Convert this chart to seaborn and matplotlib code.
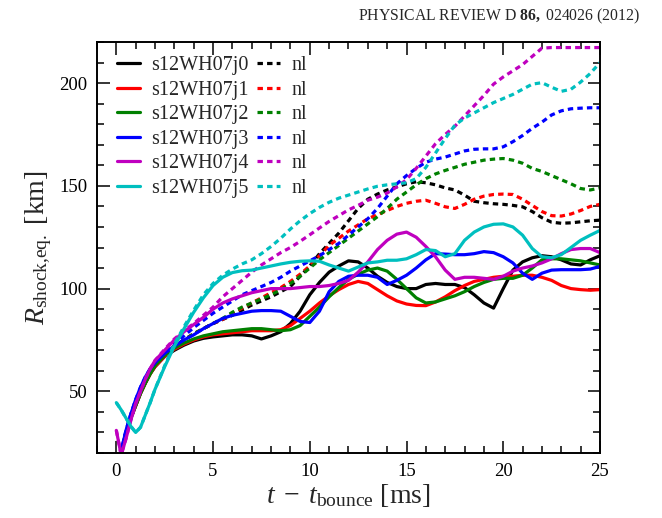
import matplotlib
matplotlib.use("Agg")
import matplotlib.pyplot as plt
from matplotlib.lines import Line2D
from matplotlib.ticker import MultipleLocator
import pandas as pd
import seaborn as sns

# ---------------------------------------------------------------- data
# time after bounce [ms]
t_ms = [0.0, 0.25, 0.5, 0.75, 1.0, 1.25, 1.5, 1.75, 2.0,
        2.5, 3.0, 3.5, 4.0, 4.5, 5.0, 5.5, 6.0, 6.5, 7.0,
        7.5, 8.0, 8.5, 9.0, 9.5, 10.0, 10.5, 11.0, 11.5, 12.0,
        12.5, 13.0, 13.5, 14.0, 14.5, 15.0, 15.5, 16.0, 16.5, 17.0,
        17.5, 18.0, 18.5, 19.0, 19.5, 20.0, 20.5, 21.0, 21.5, 22.0,
        22.5, 23.0, 23.5, 24.0, 24.5, 25.0]

models = ["s12WH07j0", "s12WH07j1", "s12WH07j2",
          "s12WH07j3", "s12WH07j4", "s12WH07j5"]
colors = ["#000000", "#ff0000", "#008000", "#0000ff", "#bf00bf", "#00bfbf"]

# equatorial shock radius [km], full (solid) runs
r_j0 = [8, 20, 30, 37, 43, 49, 54, 58.5, 62,
        67, 70, 72.5, 74.5, 75.8, 76.5, 77, 77.5, 77.5, 77,
        75.5, 77, 79, 83, 89, 97, 103, 108, 111, 113.5,
        113, 110, 106, 103, 101, 100, 100, 102, 102.5, 102,
        102, 100.5, 97, 93, 90.5, 100, 109, 113, 115, 116,
        115.5, 114, 112, 111.5, 114, 116]
r_j1 = [8, 20, 30, 37, 43, 49, 54, 58.5, 62,
        67, 70.5, 73, 75, 76.5, 77.5, 78, 78.5, 79, 79.5,
        79.5, 79.5, 80, 82, 85.5, 89, 93, 96.5, 99.5, 102,
        103.5, 102.5, 99.5, 96.5, 94, 92.5, 91.8, 91.7, 93.5, 96,
        99, 101.5, 103.5, 104.5, 105.5, 106, 106, 106.5, 106.5, 105.5,
        104, 101.5, 100, 99.5, 99.2, 99.5]
r_j2 = [8, 20, 30, 37, 43, 49, 54, 58.5, 62.5,
        67.5, 71, 73.5, 75.5, 77, 78, 79, 79.5, 80, 80.5,
        80.5, 80, 79.5, 80, 82, 86.5, 91, 96, 100.5, 104.5,
        107, 109, 110, 108.5, 104.5, 100, 95.5, 93, 93.5, 95,
        96.5, 98.5, 101, 103, 104.5, 105, 105, 106.5, 110, 114,
        114.5, 114.5, 114, 113.5, 112.5, 111.5]
r_j3 = [10, 21, 31, 39, 46, 52, 57, 61, 64,
        68.5, 72, 75, 77.5, 80.5, 83, 85.5, 87, 88, 89,
        89.3, 89.3, 89, 86.5, 84, 83.5, 89, 98.5, 103.5, 106,
        106.5, 106.5, 105.5, 102, 104, 106.5, 110, 114, 117, 116.8,
        116.5, 116.5, 117, 118, 117.5, 115.5, 112.5, 107.5, 104.5, 107.5,
        109, 109.2, 109.2, 109.2, 109.5, 110.8]
r_j4 = [31, 19, 27, 36, 44, 50, 56, 61, 65,
        70, 75, 79, 82.5, 86, 90, 93, 95, 96.5, 98,
        99, 100, 100, 100, 100.5, 101, 101, 101.5, 102.5, 104,
        108, 113, 119, 123.5, 126.5, 127.5, 125, 120.5, 115.5, 109,
        104.5, 105.5, 105.5, 105, 104.5, 106, 108.5, 110, 111, 112.5,
        114.5, 117, 119, 119.5, 119.5, 117.5]
r_j5 = [44.5, 41, 37, 33, 30, 32.5, 38.5, 44.5, 51,
        62, 72, 80.5, 88.5, 95.5, 101.5, 105.5, 107.8, 108.7, 109,
        110, 111, 112, 112.8, 113.3, 113.5, 113.3, 111.5, 110, 108.5,
        110.5, 112.5, 113, 113.8, 113.8, 114.5, 116.5, 119, 118.5, 115.5,
        117, 123.5, 127.5, 130, 131.3, 131.5, 130, 126, 119.5, 115.5,
        115, 116.5, 120, 123.5, 126, 128.3]

# same models without the extra physics ("nl", dashed)
nl_j0 = [8, 20, 30, 37, 44, 50, 55, 59.5, 63,
         68, 72, 75, 78, 80.5, 83, 85, 87, 89.5, 92,
         94, 96, 98.5, 101, 106, 111, 117, 122, 127, 133,
         139, 143.5, 146, 148, 149.5, 151, 152, 151.5, 150.5, 149,
         148, 145.5, 142.5, 141.8, 141.3, 141, 140.5, 139.8, 137.5, 134.5,
         132.3, 131.8, 132, 132.5, 133, 133.3]
nl_j1 = [8, 20, 30, 37, 43.5, 49.5, 54.5, 59, 62.5,
         68, 72, 75, 78, 80.5, 83, 85, 88, 90.5, 93,
         95.5, 98, 100.5, 103.5, 107, 111, 116, 121, 124.5, 128,
         131, 134, 136, 138, 140, 141.5, 142.5, 143, 141.5, 139.8,
         139, 141, 143.5, 145, 145.8, 146, 145.8, 143.5, 140.5, 137.5,
         135.5, 135.3, 136.3, 138, 140, 141]
nl_j2 = [8, 20, 30, 37, 43.5, 49.5, 54.5, 59, 62.5,
         68, 72, 75, 78, 80.5, 83, 85.5, 88.5, 91, 93,
         95, 97, 99.5, 102.5, 106, 110, 114, 117.5, 121, 124.5,
         128, 131.5, 135, 139, 143.5, 147, 150.5, 153.5, 155.8, 157.5,
         159, 160.5, 161.5, 162.5, 163, 163.3, 162.5, 161, 158.5, 157,
         155, 153, 151, 148.7, 148, 149]
nl_j3 = [10, 21, 31, 39, 46, 52, 57, 61, 64,
         69, 73, 77, 81, 84.5, 88, 91, 94, 97, 99,
         101, 103, 105.5, 108.5, 111, 113.5, 116, 119, 122, 126,
         130, 134, 139, 145, 151, 155, 158.5, 161.5, 163, 164,
         165.5, 167, 167.8, 168, 168, 169, 171.5, 174.5, 178, 181,
         184.5, 186.5, 187.5, 187.8, 188, 188]
nl_j4 = [31, 19, 27, 36, 44, 50, 56, 61, 65,
         70.5, 75.5, 79.5, 83, 87, 91, 96, 100, 104, 108,
         111.5, 114.5, 117.5, 120, 123, 126.2, 129.5, 132.7, 135.5, 138.3,
         140.5, 143, 144.5, 146.5, 149.5, 153, 158.5, 164.5, 170.5, 175,
         179, 184, 189, 194, 199.5, 203, 206, 209, 213, 217,
         217.3, 217.3, 217.3, 217.3, 217.3, 217.3]
nl_j5 = [44.5, 41, 37, 33, 30, 32.5, 38.5, 44.5, 51,
         62.5, 73, 81.5, 89.5, 97, 102.5, 106.5, 109.5, 112, 114,
         117, 120.5, 124.5, 129, 133, 136.5, 139.5, 142, 144, 145.5,
         147, 148.5, 149.8, 150.5, 151, 151.5, 153.5, 159, 166, 173,
         179.5, 183, 185.5, 188, 190.5, 192.5, 194.5, 197, 199.5, 200.2,
         198, 196, 197, 200.5, 204.7, 210]

full_runs = [r_j0, r_j1, r_j2, r_j3, r_j4, r_j5]
nl_runs = [nl_j0, nl_j1, nl_j2, nl_j3, nl_j4, nl_j5]

# --------------------------------------------------------------- style
sns.set_style("ticks")
plt.rcParams.update({
    "font.family": ["Liberation Serif", "DejaVu Serif"],
    "mathtext.fontset": "custom",
    "mathtext.rm": "Liberation Serif",
    "mathtext.it": "Liberation Serif:italic",
    "mathtext.bf": "Liberation Serif:bold",
    "axes.linewidth": 1.4,
    "axes.edgecolor": "black",
})

rows = []
for name, full, nl in zip(models, full_runs, nl_runs):
    for tt, r in zip(t_ms, full):
        rows.append((name, "full", tt, r))
    for tt, r in zip(t_ms, nl):
        rows.append((name, "nl", tt, r))
df = pd.DataFrame(rows, columns=["model", "run", "t", "R"])

fig = plt.figure(figsize=(6.62, 5.18), dpi=100)
ax = fig.add_axes([0.1465, 0.1255, 0.7598, 0.7934])

lw = 2.3
nl_dash = (1.7, 1.3)
sns.lineplot(data=df, x="t", y="R", hue="model", style="run",
             hue_order=models, style_order=["full", "nl"],
             palette=colors, dashes={"full": "", "nl": nl_dash},
             linewidth=lw, estimator=None, sort=False, legend=False, ax=ax)

ax.set_xlim(-1, 25)
ax.set_ylim(20, 220)
ax.xaxis.set_major_locator(MultipleLocator(5))
ax.xaxis.set_minor_locator(MultipleLocator(1))
ax.yaxis.set_major_locator(MultipleLocator(50))
ax.yaxis.set_minor_locator(MultipleLocator(10))
ax.tick_params(which="both", direction="in", top=True, right=True,
               colors="black", labelsize=13.5, pad=7)
ax.tick_params(which="major", length=9, width=1.1)
ax.tick_params(which="minor", length=5, width=1.1)

ax.set_xlabel(r"$t\;-\;t_{\rm bounce}$ [ms]", fontsize=20, labelpad=2)
ax.set_ylabel(r"$R_{\rm shock{,}eq.}$ [km]", fontsize=20, labelpad=4)

# legend: solid runs in the first column, "nl" runs in the second
handles = [Line2D([], [], color=c, lw=lw) for c in colors]
handles += [Line2D([], [], color=c, lw=lw, dashes=nl_dash) for c in colors]
labels = models + ["nl"] * len(models)
ax.legend(handles, labels, loc="upper left", bbox_to_anchor=(0.0, 1.015),
          ncol=2, frameon=False,
          fontsize=14.5, handlelength=1.15, handletextpad=0.55,
          columnspacing=0.4, labelspacing=0.27,
          borderaxespad=0.6, borderpad=0.4)

fig.text(0.967, 0.968, r"PHYSICAL REVIEW D $\mathbf{86,}$ 024026 (2012)",
         ha="right", va="center", fontsize=11.3)

fig.savefig("out.png", dpi=100)
